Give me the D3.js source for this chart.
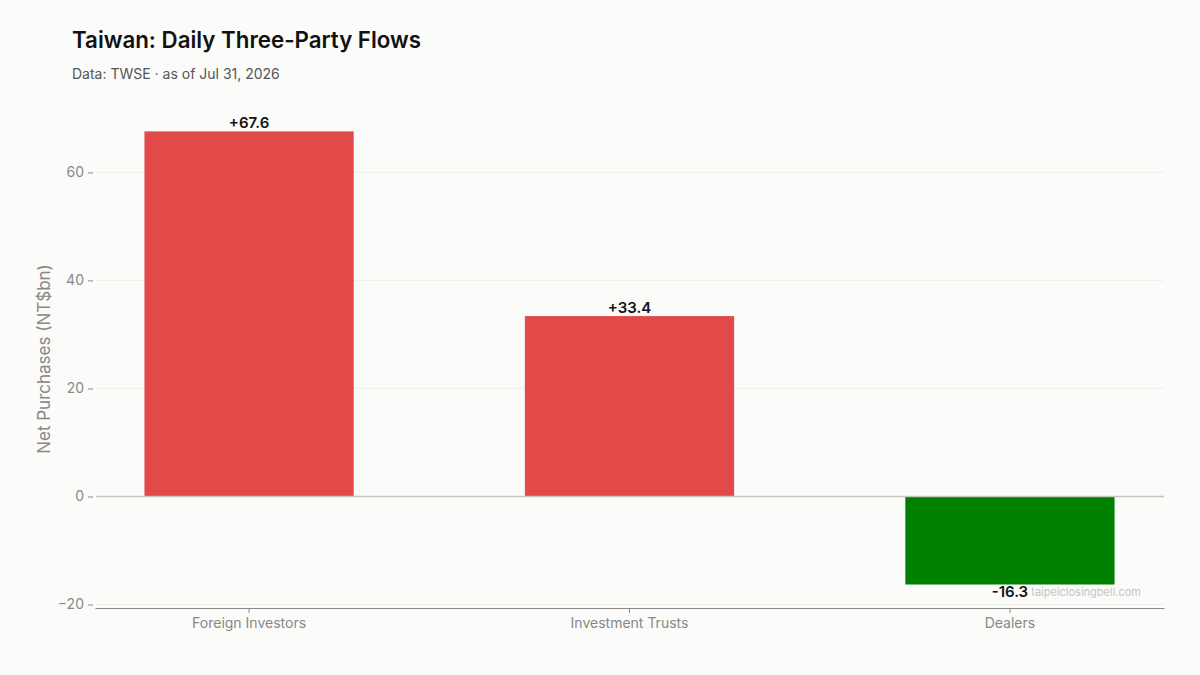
<!DOCTYPE html>
<html><head><meta charset="utf-8">
<script src="https://cdn.jsdelivr.net/npm/d3@7"></script>
<style>
html,body{margin:0;padding:0;background:#fbfbf9;}
svg{display:block;font-family:Inter,"Noto Sans",sans-serif;}
</style></head>
<body><svg id="chart" width="1200" height="675"></svg>
<script>
const categories = ["Foreign Investors", "Investment Trusts", "Dealers"];
const values = [67.6, 33.4, -16.3];
const yTicks = [-20, 0, 20, 40, 60];
const titleText = "Taiwan: Daily Three-Party Flows";
const subtitleText = "Data: TWSE \u00b7 as of Jul 31, 2026";
const yAxisTitle = "Net Purchases (NT$bn)";
const watermark = "taipeiclosingbell.com";

(function(){
const svg = d3.select("#chart");
const mLeft = 95, mRight = 1164, mTop = 113, mBottom = 608;

const x = d3.scaleBand().domain(categories).range([mLeft, mRight]).paddingInner(0.45).paddingOuter(0.13);
const y = d3.scaleLinear().domain([-20.65, 71]).range([mBottom, mTop]);

svg.append("rect").attr("width",1200).attr("height",675).attr("fill","#fbfbf9");

// gridlines
svg.append("g").selectAll("line").data(yTicks.filter(d=>d!==0)).join("line")
  .attr("x1", mLeft+1).attr("x2", mRight).attr("y1", d=>y(d)).attr("y2", d=>y(d))
  .attr("stroke", "#efefeb").attr("stroke-width", 1);

// y axis
const yAxis = svg.append("g").attr("transform", `translate(${mLeft-2},0)`)
  .call(d3.axisLeft(y).tickValues(yTicks).tickSize(5).tickPadding(4).tickFormat(d=>d<0?"\u2212"+Math.abs(d):d));
yAxis.select(".domain").remove();
yAxis.selectAll(".tick line").attr("stroke","#888");
yAxis.selectAll(".tick text").attr("fill","#888").attr("font-size",14).attr("font-family","Inter, sans-serif");

// bars
svg.append("g").selectAll("rect").data(values).join("rect")
  .attr("x", (d,i)=>x(categories[i]))
  .attr("width", x.bandwidth())
  .attr("y", d=>d>=0 ? y(d) : y(0))
  .attr("height", d=>Math.abs(y(d)-y(0)))
  .attr("fill", d=>d>=0 ? "#e24a4a" : "#008000");

// zero line
svg.append("line").attr("x1", mLeft+1).attr("x2", mRight).attr("y1", y(0)).attr("y2", y(0))
  .attr("stroke", "#c4c4bc").attr("stroke-width", 1.5);

// x axis
const xAxis = svg.append("g").attr("transform", `translate(0,${mBottom})`)
  .call(d3.axisBottom(x).tickSize(5).tickSizeOuter(0).tickPadding(5));
xAxis.select(".domain").attr("stroke","#888").attr("stroke-width",1.2);
xAxis.selectAll(".tick line").attr("stroke","#888");
xAxis.selectAll(".tick text").attr("fill","#888").attr("font-size",14).attr("font-family","Inter, sans-serif");

// value labels
svg.append("g").selectAll("text").data(values).join("text")
  .attr("x", (d,i)=>x(categories[i]) + x.bandwidth()/2)
  .attr("y", d=>d>=0 ? y(d)-3 : y(d)+12.5)
  .attr("text-anchor","middle")
  .attr("font-size",15).attr("font-weight",600).attr("fill","#111")
  .text(d=>(d>=0?"+":"")+d.toFixed(1));

// watermark
svg.append("text").attr("x", 1141).attr("y", 596).attr("text-anchor","end")
  .attr("font-size",11).attr("fill","#c4c4c4").text(watermark);

// titles
svg.append("text").attr("x",72).attr("y",48).attr("font-size",22.3).attr("font-weight",600).attr("fill","#111").text(titleText);
svg.append("text").attr("x",72).attr("y",79).attr("font-size",14).attr("fill","#555").text(subtitleText);

// y axis title
svg.append("text").attr("transform",`translate(50,359) rotate(-90)`)
  .attr("text-anchor","middle").attr("font-size",17).attr("fill","#888").text(yAxisTitle);
})();
</script></body></html>
